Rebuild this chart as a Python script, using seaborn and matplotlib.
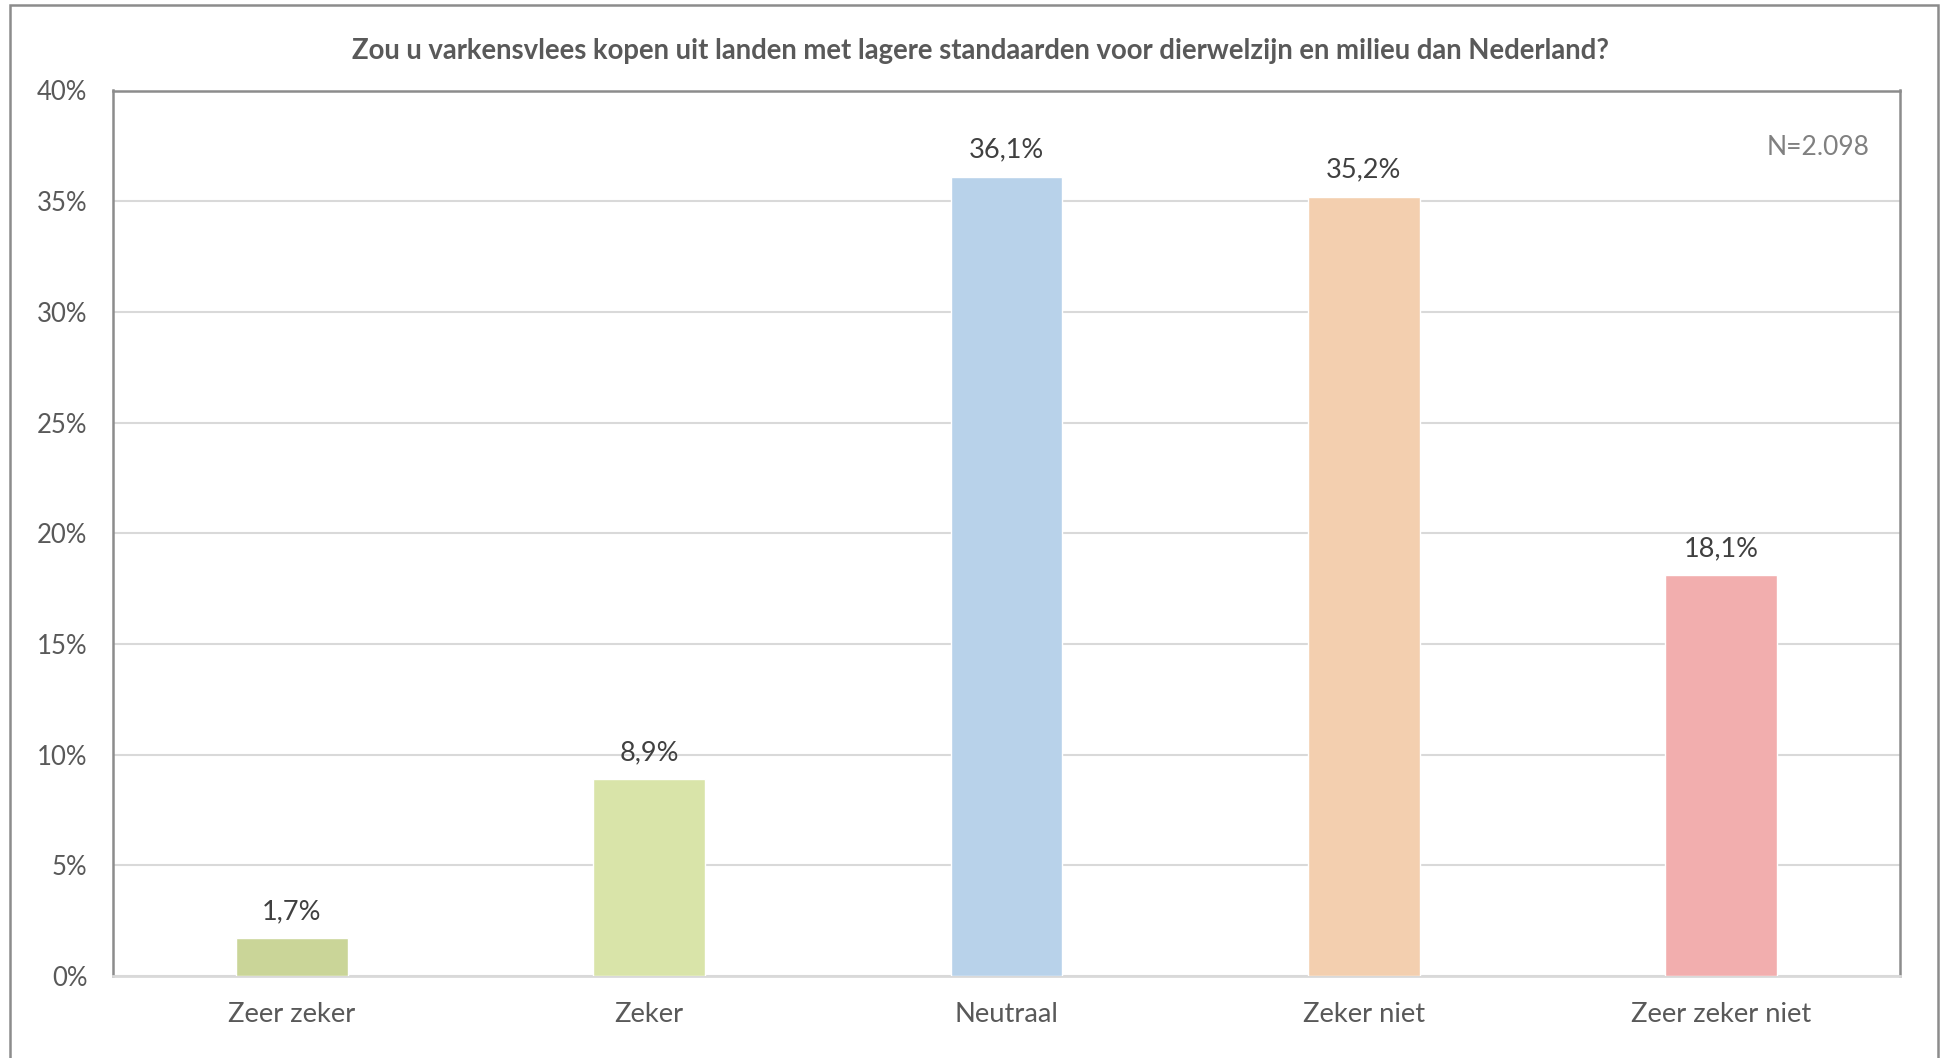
import matplotlib
matplotlib.use("Agg")
import matplotlib.pyplot as plt
import seaborn as sns
import pandas as pd
from matplotlib.patches import Rectangle
from matplotlib.ticker import FuncFormatter

categories = ["Zeer zeker", "Zeker", "Neutraal", "Zeker niet", "Zeer zeker niet"]
values = [1.7, 8.9, 36.1, 35.2, 18.1]
colors = ["#CAD598", "#D9E4A9", "#B8D2EA", "#F3CFAF", "#F2AEAE"]
title = "Zou u varkensvlees kopen uit landen met lagere standaarden voor dierwelzijn en milieu dan Nederland?"
n_label = "N=2.098"
y_ticks = [0, 5, 10, 15, 20, 25, 30, 35, 40]

sns.set_theme(style="white")
plt.rcParams["font.family"] = ["Lato", "DejaVu Sans"]

df = pd.DataFrame({"cat": categories, "val": values})

fig = plt.figure(figsize=(19.45, 10.58), dpi=100)
ax = fig.add_axes([113 / 1945, (1058 - 976) / 1058, (1900 - 113) / 1945, (976 - 90.5) / 1058])

sns.barplot(data=df, x="cat", y="val", hue="cat", palette=colors, width=0.313,
            order=categories, hue_order=categories, legend=False, ax=ax,
            saturation=1, zorder=3)

ax.set_ylim(0, 40)
ax.set_xlim(-0.5, len(categories) - 0.5)
ax.set_yticks(y_ticks)
ax.yaxis.set_major_formatter(FuncFormatter(lambda v, p: f"{int(v)}%"))
ax.grid(axis="y", color="#D9D9D9", linewidth=1.5, zorder=0)
ax.set_axisbelow(True)
ax.set_xlabel("")
ax.set_ylabel("")
ax.tick_params(axis="y", length=0, pad=18.5, labelsize=18.5, labelcolor="#595959")
ax.tick_params(axis="x", length=0, pad=19, labelsize=19.7, labelcolor="#595959")

for side in ["left", "top", "right"]:
    ax.spines[side].set_color("#8C8C8C")
    ax.spines[side].set_linewidth(1.8)
ax.spines["bottom"].set_color("#D9D9D9")
ax.spines["bottom"].set_linewidth(2)

for i, v in enumerate(values):
    ax.annotate(f"{v:.1f}%".replace(".", ","), xy=(i, v), xytext=(0, 13.7),
                textcoords="offset points", ha="center", va="baseline",
                fontsize=19.5, color="#404040")

ax.text(0.983, 37.43, n_label, transform=ax.get_yaxis_transform(), ha="right",
        va="center", fontsize=19, color="#808080")

fig.text(981 / 1945, 1 - 51 / 1058, title, ha="center", va="center",
         fontsize=19.8, fontweight="bold", color="#595959")

fig.patches.append(Rectangle((10 / 1945, -0.05), (1938 - 10) / 1945, 1.05 - 5 / 1058,
                             transform=fig.transFigure, fill=False,
                             edgecolor="#8C8C8C", linewidth=1.8))

fig.savefig("out.png", dpi=100, facecolor="white")
